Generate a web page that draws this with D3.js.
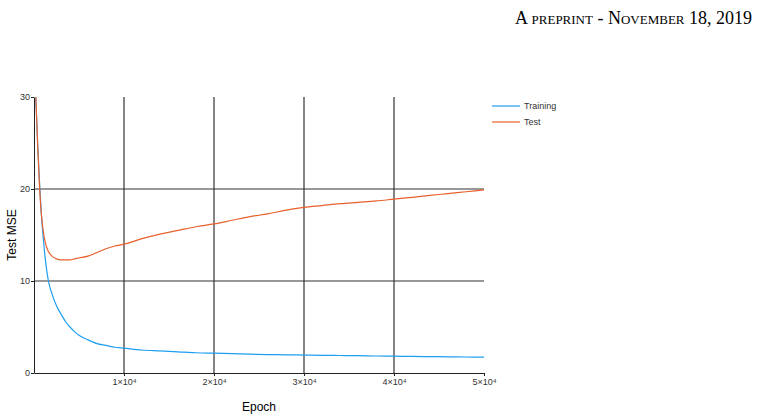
<!DOCTYPE html>
<html><head><meta charset="utf-8">
<script src="https://cdn.jsdelivr.net/npm/d3@7"></script>
<style>body{margin:0;background:#fff}</style></head>
<body><svg id="c" width="761" height="419"></svg>
<script>
const epochs = [200,400,600,800,1000,1300,1600,2000,2500,3000,3500,4000,4500,5000,6000,7000,8000,9000,10000,12000,14000,16000,18000,20000,22000,24000,26000,28000,30000,32000,34000,36000,38000,40000,42000,44000,46000,48000,50000];
const training = [30,25,21,17.5,15,12,10,8.6,7.3,6.4,5.6,5.0,4.5,4.1,3.6,3.2,3.0,2.8,2.7,2.5,2.4,2.3,2.2,2.15,2.1,2.05,2.0,1.98,1.95,1.92,1.9,1.88,1.85,1.83,1.8,1.78,1.76,1.74,1.72];
const test = [30,25,20.5,17.5,15.6,14.0,13.2,12.7,12.4,12.3,12.3,12.3,12.4,12.5,12.7,13.1,13.5,13.8,14.0,14.6,15.1,15.5,15.9,16.2,16.6,17.0,17.3,17.7,18.0,18.2,18.4,18.55,18.7,18.9,19.1,19.3,19.5,19.7,19.9];
const xTicks = [10000,20000,30000,40000,50000];
const xTickLabels = ["1×10⁴","2×10⁴","3×10⁴","4×10⁴","5×10⁴"];
const gridX = [10000,20000,30000,40000];
const yTicks = [0,10,20,30];
const seriesNames = ["Training","Test"];
const colors = ["#1f9ff0","#e8602c"];

const svg = d3.select("#c");
svg.append("text").attr("x",752).attr("y",24).attr("text-anchor","end")
  .attr("font-family","Liberation Serif").attr("font-size",18).style("font-variant","small-caps")
  .text("A preprint - November 18, 2019");

const x = d3.scaleLinear().domain([0,50000]).range([34,484]);
const y = d3.scaleLinear().domain([0,30]).range([373,97]);
const g = svg.append("g").attr("font-family","Liberation Sans");

gridX.forEach(t=>g.append("line").attr("x1",x(t)).attr("x2",x(t)).attr("y1",97).attr("y2",373).attr("stroke","#333").attr("stroke-width",1.2));
[10,20].forEach(t=>g.append("line").attr("x1",34).attr("x2",484).attr("y1",y(t)).attr("y2",y(t)).attr("stroke","#333").attr("stroke-width",1.2));

const xa = g.append("g").attr("transform","translate(0,373)")
  .call(d3.axisBottom(x).tickValues(xTicks).tickFormat((d,i)=>xTickLabels[i]).tickSize(3).tickSizeOuter(0));
const ya = g.append("g").attr("transform","translate(34,0)")
  .call(d3.axisLeft(y).tickValues(yTicks).tickSize(3).tickSizeOuter(0));
[xa,ya].forEach(a=>{a.select(".domain").attr("stroke","#222");a.selectAll("text").attr("font-size",9).attr("fill","#333").attr("font-family","Liberation Sans");a.selectAll(".tick line").attr("stroke","#222");});
ya.selectAll("text").attr("dx",2);

const line = d3.line().x((d,i)=>x(epochs[i])).y(d=>y(d)).curve(d3.curveMonotoneX);
[training,test].forEach((s,k)=>g.append("path").attr("d",line(s)).attr("fill","none").attr("stroke",colors[k]).attr("stroke-width",1.2));

g.append("text").attr("x",259).attr("y",411).attr("text-anchor","middle").attr("font-size",12).text("Epoch");
g.append("text").attr("transform","translate(16,235) rotate(-90)").attr("text-anchor","middle").attr("font-size",12).text("Test MSE");

seriesNames.forEach((n,k)=>{
  g.append("line").attr("x1",492).attr("x2",520).attr("y1",106+k*16).attr("y2",106+k*16).attr("stroke",colors[k]).attr("stroke-width",1.2);
  g.append("text").attr("x",524).attr("y",109+k*16).attr("font-size",9).attr("fill","#333").text(n);
});
</script></body></html>
